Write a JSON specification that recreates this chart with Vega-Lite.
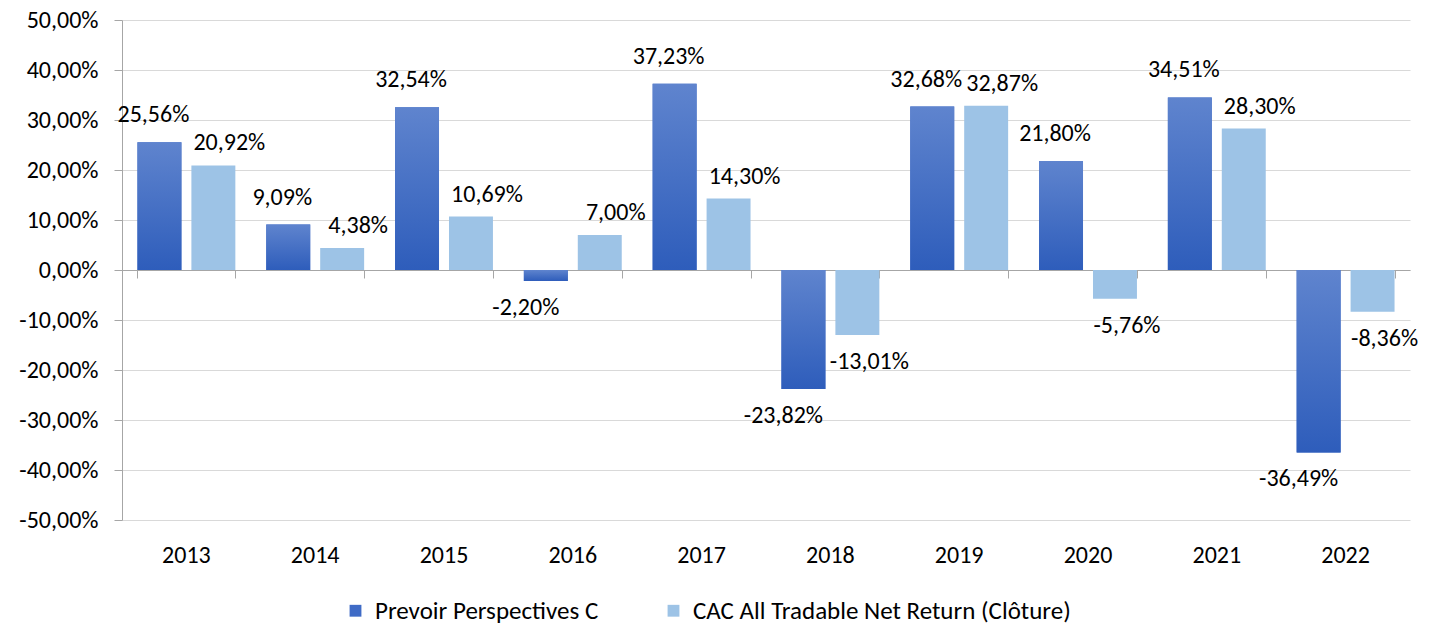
{
  "$schema": "https://vega.github.io/schema/vega-lite/v6.json",
  "width": 1288,
  "height": 500,
  "autosize": "none",
  "padding": {"left": 122, "top": 20, "right": 24, "bottom": 108},
  "config": {
    "view": {"stroke": null},
    "font": "Carlito, Lato",
    "text": {"font": "Carlito, Lato"}
  },
  "data": {
    "values": [
      {"year": "2013", "series": "Prevoir Perspectives C", "value": 25.56},
      {"year": "2013", "series": "CAC All Tradable Net Return (Clôture)", "value": 20.92},
      {"year": "2014", "series": "Prevoir Perspectives C", "value": 9.09},
      {"year": "2014", "series": "CAC All Tradable Net Return (Clôture)", "value": 4.38},
      {"year": "2015", "series": "Prevoir Perspectives C", "value": 32.54},
      {"year": "2015", "series": "CAC All Tradable Net Return (Clôture)", "value": 10.69},
      {"year": "2016", "series": "Prevoir Perspectives C", "value": -2.20},
      {"year": "2016", "series": "CAC All Tradable Net Return (Clôture)", "value": 7.00},
      {"year": "2017", "series": "Prevoir Perspectives C", "value": 37.23},
      {"year": "2017", "series": "CAC All Tradable Net Return (Clôture)", "value": 14.30},
      {"year": "2018", "series": "Prevoir Perspectives C", "value": -23.82},
      {"year": "2018", "series": "CAC All Tradable Net Return (Clôture)", "value": -13.01},
      {"year": "2019", "series": "Prevoir Perspectives C", "value": 32.68},
      {"year": "2019", "series": "CAC All Tradable Net Return (Clôture)", "value": 32.87},
      {"year": "2020", "series": "Prevoir Perspectives C", "value": 21.80},
      {"year": "2020", "series": "CAC All Tradable Net Return (Clôture)", "value": -5.76},
      {"year": "2021", "series": "Prevoir Perspectives C", "value": 34.51},
      {"year": "2021", "series": "CAC All Tradable Net Return (Clôture)", "value": 28.30},
      {"year": "2022", "series": "Prevoir Perspectives C", "value": -36.49},
      {"year": "2022", "series": "CAC All Tradable Net Return (Clôture)", "value": -8.36}
    ]
  },
  "transform": [
    {"calculate": "replace(replace(format(datum.value,'.2f'),'.',','),'\u2212','-')+'%'", "as": "label"}
  ],
  "encoding": {
    "xOffset": {
      "field": "series", "type": "nominal",
      "sort": ["Prevoir Perspectives C", "CAC All Tradable Net Return (Clôture)"],
      "scale": {"paddingInner": 0.185, "paddingOuter": 0}
    },
    "y": {
      "field": "value", "type": "quantitative",
      "scale": {"domain": [-50, 50], "nice": false},
      "axis": {
        "values": [-50, -40, -30, -20, -10, 0, 10, 20, 30, 40, 50],
        "labelExpr": "replace(replace(format(datum.value,'.2f'),'.',','),'\u2212','-')+'%'",
        "title": null,
        "grid": true,
        "gridColor": "#d9d9d9",
        "domainColor": "#a6a6a6",
        "tickColor": "#a6a6a6",
        "tickSize": 8,
        "labelFontSize": 24,
        "labelColor": "#000000",
        "labelPadding": 16,
        "labelFont": "Carlito, Lato"
      }
    }
  },
  "layer": [
    {
      "mark": {"type": "bar"},
      "encoding": {
        "x": {
          "field": "year", "type": "nominal",
          "scale": {"paddingInner": 0.24, "paddingOuter": 0.12},
          "axis": {
            "orient": "bottom", "domain": false, "ticks": false, "labelAngle": 0,
            "labelFontSize": 24, "labelPadding": 23, "title": null,
            "labelColor": "#000000", "labelFont": "Carlito, Lato"
          }
        },
        "color": {
          "field": "series", "type": "nominal",
          "sort": ["Prevoir Perspectives C", "CAC All Tradable Net Return (Clôture)"],
          "scale": {"range": ["#3F6BC6", "#9DC3E6"]},
          "legend": {
            "orient": "none", "direction": "horizontal", "legendX": 221, "legendY": 578,
            "title": null, "symbolType": "square", "symbolSize": 140,
            "symbolStrokeWidth": 0, "labelFontSize": 25, "labelColor": "#000000",
            "labelFont": "Carlito, Lato", "columnPadding": 62, "labelOffset": 7, "labelLimit": 0
          }
        }
      }
    },
    {
      "transform": [{"filter": "datum.series == 'Prevoir Perspectives C'"}],
      "mark": {
        "type": "bar",
        "fill": {
          "gradient": "linear", "x1": 0, "y1": 0, "x2": 0, "y2": 1,
          "stops": [{"offset": 0, "color": "#5F84CE"}, {"offset": 1, "color": "#2E5DBB"}]
        }
      },
      "encoding": {
        "x": {"field": "year", "type": "nominal", "axis": null}
      }
    },
    {
      "transform": [{"filter": "datum.value >= 0 && datum.series == 'Prevoir Perspectives C'"}],
      "mark": {"type": "text", "baseline": "bottom", "dy": -15, "dx": -6, "fontSize": 24, "color": "#000000", "font": "Carlito, Lato"},
      "encoding": {
        "x": {"field": "year", "type": "nominal", "axis": null},
        "text": {"field": "label"}
      }
    },
    {
      "transform": [{"filter": "datum.value >= 0 && datum.series != 'Prevoir Perspectives C'"}],
      "mark": {"type": "text", "baseline": "bottom", "dy": -10, "dx": 16, "fontSize": 24, "color": "#000000", "font": "Carlito, Lato"},
      "encoding": {
        "x": {"field": "year", "type": "nominal", "axis": null},
        "text": {"field": "label"}
      }
    },
    {
      "transform": [{"filter": "datum.value < 0 && datum.series == 'Prevoir Perspectives C'"}],
      "mark": {"type": "text", "baseline": "top", "dy": 15, "dx": -20, "fontSize": 24, "color": "#000000", "font": "Carlito, Lato"},
      "encoding": {
        "x": {"field": "year", "type": "nominal", "axis": null},
        "text": {"field": "label"}
      }
    },
    {
      "transform": [{"filter": "datum.value < 0 && datum.series != 'Prevoir Perspectives C'"}],
      "mark": {"type": "text", "baseline": "top", "dy": 15, "dx": 12, "fontSize": 24, "color": "#000000", "font": "Carlito, Lato"},
      "encoding": {
        "x": {"field": "year", "type": "nominal", "axis": null},
        "text": {"field": "label"}
      }
    },
    {
      "mark": {"type": "point", "opacity": 0},
      "encoding": {
        "x": {
          "field": "year", "type": "nominal",
          "axis": {
            "orient": "bottom", "offset": -250, "labels": false, "ticks": true,
            "tickBand": "extent", "domain": true, "domainColor": "#a6a6a6",
            "tickColor": "#a6a6a6", "tickSize": 8, "grid": false, "title": null
          }
        }
      }
    }
  ],
  "resolve": {"axis": {"x": "independent"}}
}
